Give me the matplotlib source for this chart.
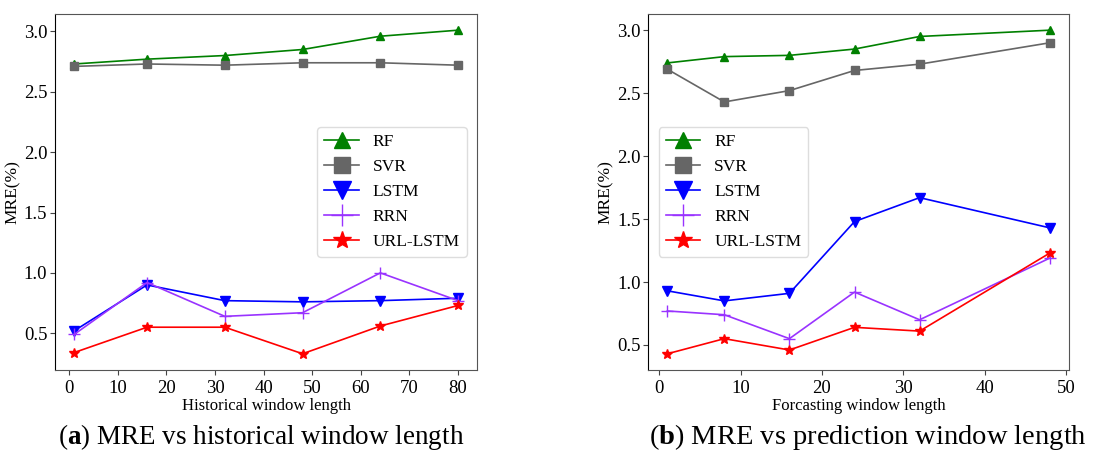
import matplotlib.pyplot as plt
from matplotlib import ticker

plt.rcParams['font.family'] = ['Liberation Serif', 'DejaVu Serif']
plt.rcParams['mathtext.fontset'] = 'custom'
plt.rcParams['mathtext.rm'] = 'Liberation Serif'
plt.rcParams['mathtext.bf'] = 'Liberation Serif:bold'

# (a) historical window length
hist_x = [1, 16, 32, 48, 64, 80]
hist_rf = [2.73, 2.77, 2.80, 2.85, 2.96, 3.01]
hist_svr = [2.71, 2.73, 2.72, 2.74, 2.74, 2.72]
hist_lstm = [0.52, 0.90, 0.77, 0.76, 0.77, 0.79]
hist_rrn = [0.49, 0.92, 0.64, 0.67, 1.00, 0.77]
hist_url = [0.34, 0.55, 0.55, 0.33, 0.56, 0.73]

# (b) forecasting window length
pred_x = [1, 8, 16, 24, 32, 48]
pred_rf = [2.74, 2.79, 2.80, 2.85, 2.95, 3.00]
pred_svr = [2.69, 2.43, 2.52, 2.68, 2.73, 2.90]
pred_lstm = [0.93, 0.85, 0.91, 1.48, 1.67, 1.43]
pred_rrn = [0.77, 0.74, 0.55, 0.92, 0.70, 1.19]
pred_url = [0.43, 0.55, 0.46, 0.64, 0.61, 1.23]

labels = ["RF", "SVR", "LSTM", "RRN", "URL-LSTM"]
styles = [
    dict(color="green", marker="^", ms=6),
    dict(color="#666666", marker="s", ms=6),
    dict(color="blue", marker="v", ms=7),
    dict(color="#9933ff", marker="+", ms=8),
    dict(color="red", marker="*", ms=7),
]


def draw_panel(ax, x, series, xlabel, legend_loc, xstep):
    for y, lab, st in zip(series, labels, styles):
        ax.plot(x, y, label=lab, lw=1.2, **st)
    ax.xaxis.set_major_locator(ticker.MultipleLocator(xstep))
    ax.set_xlabel(xlabel, fontsize=12, labelpad=1)
    ax.set_ylabel("MRE(%)", fontsize=12.5, labelpad=2)
    ax.tick_params(labelsize=13.5, length=3.5, color="#444444")
    ax.tick_params(axis="y", pad=2)
    for side in ["top", "right", "bottom"]:
        ax.spines[side].set_color("#555555")
    ax.spines["left"].set_color("black")
    ax.legend(loc=legend_loc, fontsize=12.5, markerscale=1.9,
              borderaxespad=0.6, framealpha=1, edgecolor="#dddddd")


fig = plt.figure(figsize=(11.1, 4.59), dpi=100)
ax1 = fig.add_axes([0.0495, 0.194, 0.3805, 0.7755])
ax2 = fig.add_axes([0.584, 0.194, 0.379, 0.7755])

draw_panel(ax1, hist_x, [hist_rf, hist_svr, hist_lstm, hist_rrn, hist_url],
           "Historical window length", "center right", 10)
draw_panel(ax2, pred_x, [pred_rf, pred_svr, pred_lstm, pred_rrn, pred_url],
           "Forcasting window length", "center left", 10)

fig.text(0.235, 0.048, r"($\mathbf{a}$) MRE vs historical window length",
         ha="center", va="center", fontsize=19.5)
fig.text(0.782, 0.048, r"($\mathbf{b}$) MRE vs prediction window length",
         ha="center", va="center", fontsize=20.5)

fig.savefig("out.png", dpi=100)
